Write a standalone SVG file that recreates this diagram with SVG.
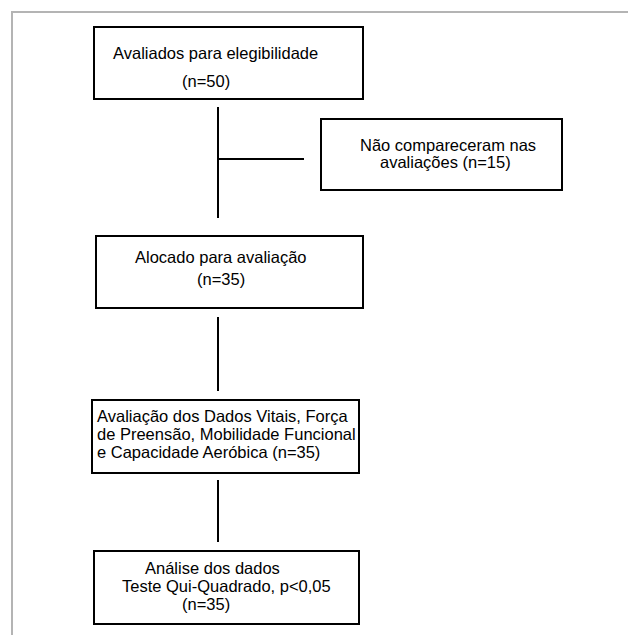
<svg xmlns="http://www.w3.org/2000/svg" width="628" height="635" viewBox="0 0 628 635">
<style>
.box{fill:#fff;stroke:#000;stroke-width:2}
.t{font-family:"Liberation Sans",Arial,sans-serif;font-size:16.5px;fill:#000}
.c{stroke:#000;stroke-width:2;fill:none}
.frame{stroke:#b4b4b4;stroke-width:2;fill:none}
</style>
<rect width="628" height="635" fill="#fff"/>
<path class="frame" d="M12,635 V12 H628"/>
<g id="connectors">
<line class="c" x1="218" y1="107" x2="218" y2="218"/>
<line class="c" x1="218" y1="159" x2="304" y2="159"/>
<line class="c" x1="218" y1="317" x2="218" y2="391"/>
<line class="c" x1="218" y1="480" x2="218" y2="542"/>
</g>
<g id="n1">
<rect class="box" x="94" y="27" width="269" height="72"/>
<text class="t" x="113" y="59">Avaliados para elegibilidade</text>
<text class="t" x="182" y="87">(n=50)</text>
</g>
<g id="n2">
<rect class="box" x="321" y="119" width="241" height="71"/>
<text class="t" x="360" y="151">Não compareceram nas</text>
<text class="t" x="380" y="168">avaliações (n=15)</text>
</g>
<g id="n3">
<rect class="box" x="96" y="236" width="267" height="72"/>
<text class="t" x="135" y="263">Alocado para avaliação</text>
<text class="t" x="197" y="285">(n=35)</text>
</g>
<g id="n4">
<rect class="box" x="92" y="400" width="267" height="73"/>
<text class="t" x="97" y="422">Avaliação dos Dados Vitais, Força</text>
<text class="t" x="97" y="440">de Preensão, Mobilidade Funcional</text>
<text class="t" x="97" y="458">e Capacidade Aeróbica (n=35)</text>
</g>
<g id="n5">
<rect class="box" x="94" y="551" width="265" height="73"/>
<text class="t" x="145" y="574">Análise dos dados</text>
<text class="t" x="122" y="592">Teste Qui-Quadrado, p&lt;0,05</text>
<text class="t" x="182" y="610">(n=35)</text>
</g>
</svg>
